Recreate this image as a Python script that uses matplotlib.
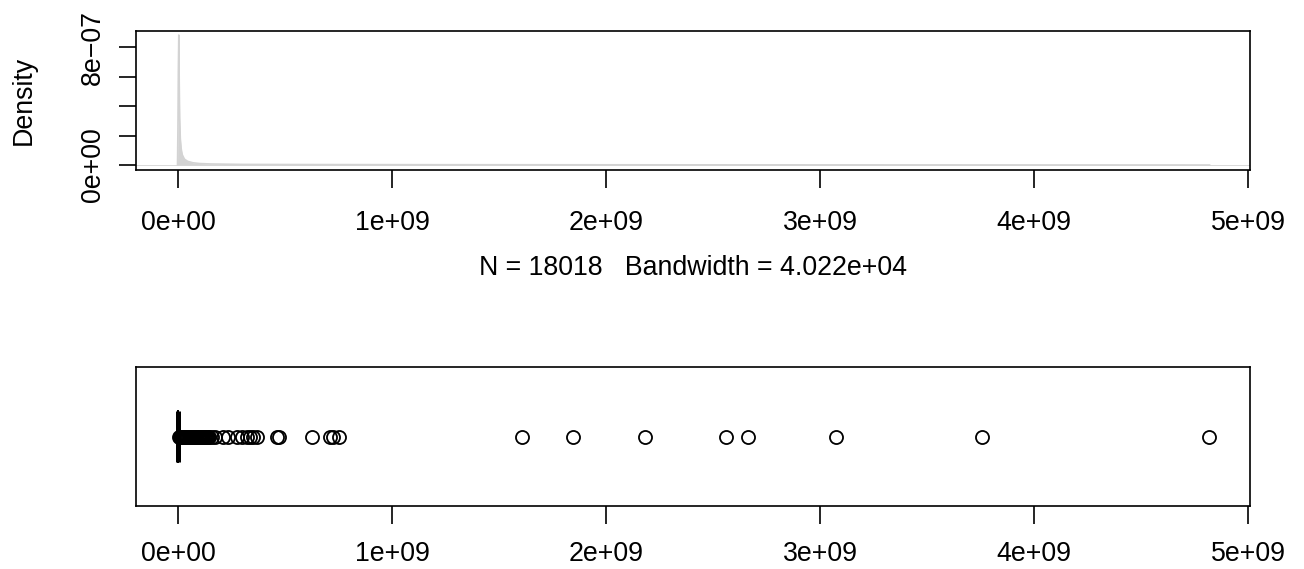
import matplotlib
matplotlib.use("Agg")
import matplotlib.pyplot as plt
import numpy as np

plt.rcParams['font.family'] = ['Liberation Sans', 'DejaVu Sans']

# ---- data ----
# density curve (x in units of 1e9, y in units of 1e-7)
dens_x = [-0.002, 0.0, 0.002, 0.004, 0.006, 0.008, 0.011, 0.015, 0.02, 0.03,
          0.045, 0.07, 0.1, 0.15, 0.3, 0.6, 1.2, 2.5, 4.82]
dens_y = [0.0, 2.5, 6.5, 8.81, 5.5, 3.2, 1.8, 1.1, 0.7, 0.4,
          0.25, 0.15, 0.1, 0.07, 0.04, 0.03, 0.02, 0.01, 0.0]

n_obs = 18018
bandwidth_label = "4.022e+04"

# boxplot summary (units of 1e9)
box_med = 0.0005
box_q1 = 0.0001
box_q3 = 0.002
box_whislo = 0.0
box_whishi = 0.005
outliers = [0.006, 0.008, 0.010, 0.012, 0.014, 0.017, 0.020, 0.023, 0.026, 0.029,
            0.032, 0.035, 0.038, 0.042, 0.046, 0.050, 0.054, 0.058, 0.062, 0.066,
            0.070, 0.074, 0.078, 0.082, 0.086, 0.090, 0.094, 0.098, 0.102, 0.106,
            0.110, 0.114, 0.118, 0.122, 0.126, 0.130, 0.135, 0.140, 0.145,
            0.160, 0.175, 0.210, 0.234, 0.276, 0.299, 0.322, 0.336, 0.350, 0.369,
            0.464, 0.470, 0.626, 0.710, 0.724, 0.752,
            1.607, 1.846, 2.182, 2.561, 2.664, 3.075, 3.757, 4.818]

x_ticks = [0, 1, 2, 3, 4, 5]
x_ticklabels = ["0e+00", "1e+09", "2e+09", "3e+09", "4e+09", "5e+09"]
y_ticks = [0, 2, 4, 6, 8]
y_ticklabels = ["0e+00", "", "", "", "8e\u221207"]

# ---- figure ----
W, H = 1304, 569
fig = plt.figure(figsize=(W / 100, H / 100), dpi=100)

def px_axes(l, t, r, b):
    return fig.add_axes([l / W, 1 - b / H, (r - l) / W, (b - t) / H])

FS = 19.3
LW = 1.2
xlim = (-0.196, 5.009)

ax1 = px_axes(136, 31, 1250, 170)
ax1.axhline(0, color='#bebebe', lw=0.4, zorder=1)
ax1.fill_between(dens_x, dens_y, 0, color='#d3d3d3', lw=0, zorder=2)
ax1.plot(dens_x, dens_y, color='#d3d3d3', lw=1.2, zorder=3)
ax1.set_xlim(*xlim)
ax1.set_ylim(-0.339, 9.085)
ax1.set_xticks(x_ticks)
ax1.set_xticklabels(x_ticklabels)
ax1.set_yticks(y_ticks)
ax1.set_yticklabels(y_ticklabels, rotation=90, va='center')
fig.text(23.5 / W, 1 - 100.5 / H, "Density", rotation=90, ha='center', va='center', fontsize=FS)
fig.text(693 / W, 1 - 268 / H, f"N = {n_obs}   Bandwidth = {bandwidth_label}",
         ha='center', va='center', fontsize=FS)

ax2 = px_axes(136, 367, 1250, 506)
stats = [dict(med=box_med, q1=box_q1, q3=box_q3, whislo=box_whislo,
              whishi=box_whishi, fliers=outliers)]
ax2.bxp(stats, positions=[1], widths=[0.4], vert=False, showfliers=True,
        boxprops=dict(color='black', lw=1.2),
        medianprops=dict(color='black', lw=3.6),
        whiskerprops=dict(color='black', lw=1.2, ls='--'),
        capprops=dict(color='black', lw=1.2),
        flierprops=dict(marker='o', markerfacecolor='none', markeredgecolor='black',
                        markersize=9.4, markeredgewidth=1.3))
ax2.set_xlim(*xlim)
ax2.set_ylim(0.46, 1.54)
ax2.set_xticks(x_ticks)
ax2.set_xticklabels(x_ticklabels)
ax2.set_yticks([])

for ax in (ax1, ax2):
    for s in ax.spines.values():
        s.set_linewidth(LW)
    ax.tick_params(axis='both', length=12.6, width=LW, labelsize=FS, pad=16)
ax1.tick_params(axis='y', pad=9)
ax2.tick_params(axis='x', pad=12.5)

fig.savefig("out.png", dpi=100)
